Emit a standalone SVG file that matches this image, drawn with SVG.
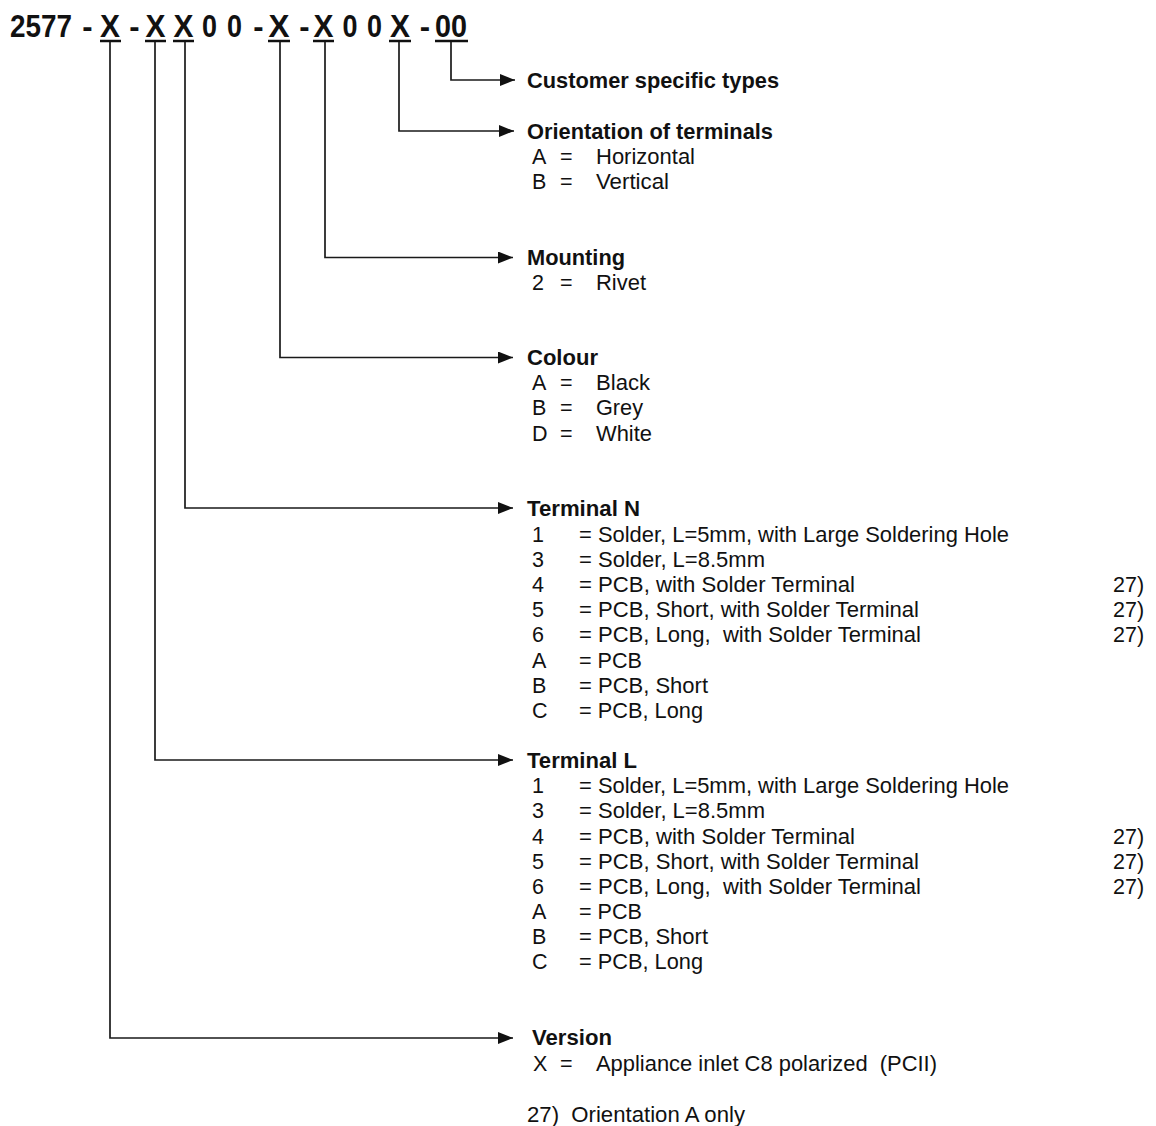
<svg xmlns="http://www.w3.org/2000/svg" width="1156" height="1126" viewBox="0 0 1156 1126">
<style>
text{font-family:"Liberation Sans",Arial,sans-serif;fill:#111}
.hd{font-size:31px;font-weight:bold;text-anchor:middle}
.t{font-size:21.5px;font-weight:bold}
.r{font-size:21.5px}
.ul{stroke:#111;stroke-width:2.5}
.c{fill:none;stroke:#1a1a1a;stroke-width:1.7}
</style>
<defs>
<marker id="ah" viewBox="0 0 15 12" refX="15" refY="6" markerWidth="15" markerHeight="12" markerUnits="userSpaceOnUse" orient="auto">
<path d="M0,0 L15,6 L0,12 z" fill="#111"/>
</marker>
</defs>
<rect width="1156" height="1126" fill="#fff"/>
<g id="code">
<text class="hd" x="41" y="37" textLength="62" lengthAdjust="spacingAndGlyphs">2577</text>
<text class="hd" x="87.5" y="37">-</text>
<text class="hd" x="110" y="37" textLength="20" lengthAdjust="spacingAndGlyphs">X</text>
<text class="hd" x="134.5" y="37">-</text>
<text class="hd" x="155.5" y="37" textLength="20" lengthAdjust="spacingAndGlyphs">X</text>
<text class="hd" x="183.5" y="37" textLength="20" lengthAdjust="spacingAndGlyphs">X</text>
<text class="hd" x="209.5" y="37" textLength="15" lengthAdjust="spacingAndGlyphs">0</text>
<text class="hd" x="234.5" y="37" textLength="15" lengthAdjust="spacingAndGlyphs">0</text>
<text class="hd" x="258.5" y="37">-</text>
<text class="hd" x="279" y="37" textLength="21" lengthAdjust="spacingAndGlyphs">X</text>
<text class="hd" x="304.5" y="37">-</text>
<text class="hd" x="323.5" y="37" textLength="20" lengthAdjust="spacingAndGlyphs">X</text>
<text class="hd" x="350" y="37" textLength="15" lengthAdjust="spacingAndGlyphs">0</text>
<text class="hd" x="374.5" y="37" textLength="15" lengthAdjust="spacingAndGlyphs">0</text>
<text class="hd" x="400" y="37" textLength="20" lengthAdjust="spacingAndGlyphs">X</text>
<text class="hd" x="425" y="37">-</text>
<text class="hd" x="451" y="37" textLength="32" lengthAdjust="spacingAndGlyphs">00</text>
<line class="ul" x1="100" y1="41" x2="121" y2="41"/>
<line class="ul" x1="145" y1="41" x2="166" y2="41"/>
<line class="ul" x1="173" y1="41" x2="194" y2="41"/>
<line class="ul" x1="268" y1="41" x2="290" y2="41"/>
<line class="ul" x1="313" y1="41" x2="334" y2="41"/>
<line class="ul" x1="389" y1="41" x2="411" y2="41"/>
<line class="ul" x1="435" y1="41" x2="468" y2="41"/>
</g>
<g id="connectors">
<path class="c" d="M451,42 V80 H515" marker-end="url(#ah)"/>
<path class="c" d="M399,42 V131 H514" marker-end="url(#ah)"/>
<path class="c" d="M325,42 V257.5 H513" marker-end="url(#ah)"/>
<path class="c" d="M280,42 V357.5 H513" marker-end="url(#ah)"/>
<path class="c" d="M185,42 V508 H513" marker-end="url(#ah)"/>
<path class="c" d="M155,42 V760 H513" marker-end="url(#ah)"/>
<path class="c" d="M110,42 V1038 H513" marker-end="url(#ah)"/>
</g>
<g id="customer">
<text class="t" x="527" y="87.5" textLength="252" lengthAdjust="spacingAndGlyphs">Customer specific types</text>
</g>
<g id="orientation">
<text class="t" x="527" y="138.5" textLength="246" lengthAdjust="spacingAndGlyphs">Orientation of terminals</text>
<text class="r" x="532" y="163.5">A</text><text class="r" x="560" y="163.5">=</text><text class="r" x="596" y="163.5" textLength="99" lengthAdjust="spacingAndGlyphs">Horizontal</text>
<text class="r" x="532" y="188.5">B</text><text class="r" x="560" y="188.5">=</text><text class="r" x="596" y="188.5" textLength="73" lengthAdjust="spacingAndGlyphs">Vertical</text>
</g>
<g id="mounting">
<text class="t" x="527" y="265" textLength="98" lengthAdjust="spacingAndGlyphs">Mounting</text>
<text class="r" x="532" y="289.5">2</text><text class="r" x="560" y="289.5">=</text><text class="r" x="596" y="289.5" textLength="50" lengthAdjust="spacingAndGlyphs">Rivet</text>
</g>
<g id="colour">
<text class="t" x="527" y="365" textLength="71" lengthAdjust="spacingAndGlyphs">Colour</text>
<text class="r" x="532" y="389.5">A</text><text class="r" x="560" y="389.5">=</text><text class="r" x="596" y="389.5" textLength="54" lengthAdjust="spacingAndGlyphs">Black</text>
<text class="r" x="532" y="414.5">B</text><text class="r" x="560" y="414.5">=</text><text class="r" x="596" y="414.5" textLength="47" lengthAdjust="spacingAndGlyphs">Grey</text>
<text class="r" x="532" y="440.5">D</text><text class="r" x="560" y="440.5">=</text><text class="r" x="596" y="440.5" textLength="56" lengthAdjust="spacingAndGlyphs">White</text>
</g>
<g id="terminal-n">
<text class="t" x="527" y="515.5" textLength="113" lengthAdjust="spacingAndGlyphs">Terminal N</text>
<text class="r" x="532" y="541.5">1</text><text class="r" x="579" y="541.5" textLength="430" lengthAdjust="spacingAndGlyphs">= Solder, L=5mm, with Large Soldering Hole</text>
<text class="r" x="532" y="566.5">3</text><text class="r" x="579" y="566.5" textLength="186" lengthAdjust="spacingAndGlyphs">= Solder, L=8.5mm</text>
<text class="r" x="532" y="591.5">4</text><text class="r" x="579" y="591.5" textLength="276" lengthAdjust="spacingAndGlyphs">= PCB, with Solder Terminal</text>
<text class="r" x="532" y="616.5">5</text><text class="r" x="579" y="616.5" textLength="340" lengthAdjust="spacingAndGlyphs">= PCB, Short, with Solder Terminal</text>
<text class="r" x="532" y="641.5">6</text><text class="r" x="579" y="641.5" textLength="342" lengthAdjust="spacingAndGlyphs" xml:space="preserve">= PCB, Long,  with Solder Terminal</text>
<text class="r" x="532" y="667.5">A</text><text class="r" x="579" y="667.5" textLength="63" lengthAdjust="spacingAndGlyphs">= PCB</text>
<text class="r" x="532" y="692.5">B</text><text class="r" x="579" y="692.5" textLength="129" lengthAdjust="spacingAndGlyphs">= PCB, Short</text>
<text class="r" x="532" y="717.5">C</text><text class="r" x="579" y="717.5" textLength="124" lengthAdjust="spacingAndGlyphs">= PCB, Long</text>
<text class="r" x="1113" y="591.5">27)</text>
<text class="r" x="1113" y="616.5">27)</text>
<text class="r" x="1113" y="641.5">27)</text>
</g>
<g id="terminal-l">
<text class="t" x="527" y="767.5" textLength="110" lengthAdjust="spacingAndGlyphs">Terminal L</text>
<text class="r" x="532" y="792.5">1</text><text class="r" x="579" y="792.5" textLength="430" lengthAdjust="spacingAndGlyphs">= Solder, L=5mm, with Large Soldering Hole</text>
<text class="r" x="532" y="817.5">3</text><text class="r" x="579" y="817.5" textLength="186" lengthAdjust="spacingAndGlyphs">= Solder, L=8.5mm</text>
<text class="r" x="532" y="843.5">4</text><text class="r" x="579" y="843.5" textLength="276" lengthAdjust="spacingAndGlyphs">= PCB, with Solder Terminal</text>
<text class="r" x="532" y="868.5">5</text><text class="r" x="579" y="868.5" textLength="340" lengthAdjust="spacingAndGlyphs">= PCB, Short, with Solder Terminal</text>
<text class="r" x="532" y="893.5">6</text><text class="r" x="579" y="893.5" textLength="342" lengthAdjust="spacingAndGlyphs" xml:space="preserve">= PCB, Long,  with Solder Terminal</text>
<text class="r" x="532" y="918.5">A</text><text class="r" x="579" y="918.5" textLength="63" lengthAdjust="spacingAndGlyphs">= PCB</text>
<text class="r" x="532" y="943.5">B</text><text class="r" x="579" y="943.5" textLength="129" lengthAdjust="spacingAndGlyphs">= PCB, Short</text>
<text class="r" x="532" y="968.5">C</text><text class="r" x="579" y="968.5" textLength="124" lengthAdjust="spacingAndGlyphs">= PCB, Long</text>
<text class="r" x="1113" y="843.5">27)</text>
<text class="r" x="1113" y="868.5">27)</text>
<text class="r" x="1113" y="893.5">27)</text>
</g>
<g id="version">
<text class="t" x="532" y="1045" textLength="80" lengthAdjust="spacingAndGlyphs">Version</text>
<text class="r" x="533" y="1070.5">X</text><text class="r" x="560" y="1070.5">=</text><text class="r" x="596" y="1070.5" textLength="341" lengthAdjust="spacingAndGlyphs" xml:space="preserve">Appliance inlet C8 polarized  (PCII)</text>
</g>
<g id="footnote">
<text class="r" x="527" y="1121.5" textLength="218" lengthAdjust="spacingAndGlyphs" xml:space="preserve">27)  Orientation A only</text>
</g>
</svg>
